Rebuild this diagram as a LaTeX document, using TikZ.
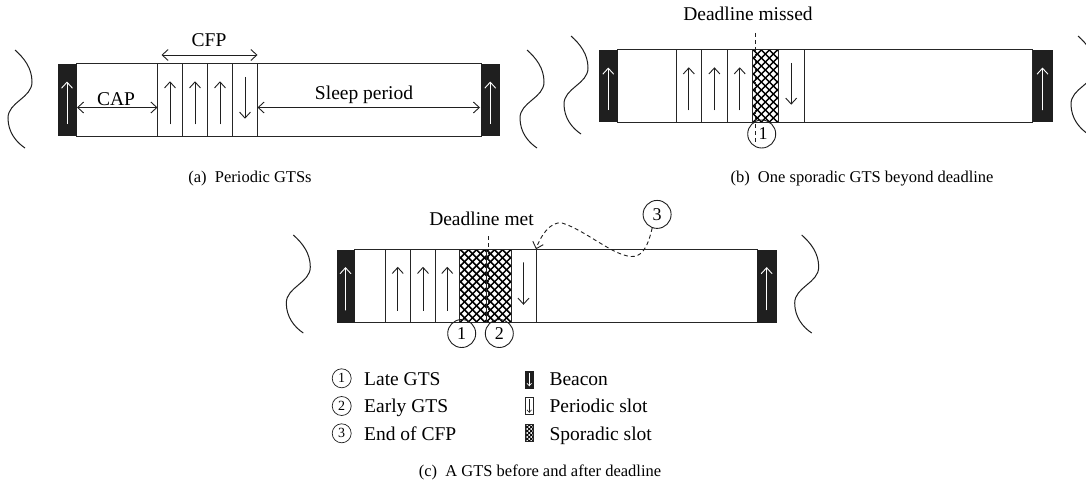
\documentclass[tikz,border=0pt]{standalone}
\usepackage{fontspec}
\setmainfont{Liberation Serif}
\usetikzlibrary{arrows.meta,calc,fit}

\newcommand\lblfont{\fontsize{19.5}{22}\selectfont}
\newcommand\capfont{\fontsize{16.5}{19}\selectfont}
\newcommand\numfont{\fontsize{18}{20}\selectfont}

% a rectangular block given by its two corners
\newcommand\blk[6]{\node[#1, fit={(#3,#5) (#4,#6)}] (#2) {};}
% up / down arrows inside a block
\newcommand\arrup[2]{\draw[#2] ($(#1.south)!0.16!(#1.north)$) -- ($(#1.south)!0.76!(#1.north)$);}
\newcommand\arrdown[2]{\draw[#2] ($(#1.north)!0.18!(#1.south)$) -- ($(#1.north)!0.76!(#1.south)$);}
% cross-hatched sporadic slot
\newcommand\hatchit[1]{%
  \begin{scope}
    \clip (#1.south west) rectangle (#1.north east);
    \foreach \k in {-88,-80,...,88} {
      \draw[hatch] ($(#1.center)+(\k-50,-50)$) -- ++(100,100);
      \draw[hatch] ($(#1.center)+(\k-50,50)$) -- ++(100,-100);
    }
  \end{scope}
  \draw[slot] (#1.south west) rectangle (#1.north east);}

\tikzset{
  frame/.style={draw=black!85, line width=1pt, inner sep=0pt, outer sep=0pt},
  slot/.style={draw=black!85, line width=1pt, inner sep=0pt, outer sep=0pt},
  beacon/.style={fill=black!88, draw=black!88, line width=0.4pt, inner sep=0pt, outer sep=0pt},
  hatch/.style={draw=black, line width=1.5pt},
  arr/.style={draw=black!88, line width=0.9pt, -{Straight Barb[length=6pt,width=11pt]}},
  warr/.style={draw=white, line width=0.9pt, -{Straight Barb[length=6pt,width=11pt]}},
  dbl/.style={draw=black!88, line width=0.9pt, {Straight Barb[length=6pt,width=11pt]}-{Straight Barb[length=6pt,width=11pt]}},
  dl/.style={draw=black!88, line width=0.9pt, dash pattern=on 4pt off 3pt},
  wavy/.style={draw=black!88, line width=1pt},
  circ/.style={circle, draw=black!88, line width=0.9pt, minimum size=28pt, inner sep=0pt, font=\numfont},
  lcirc/.style={circle, draw=black!88, line width=0.7pt, minimum size=19pt, inner sep=0pt, font=\fontsize{14}{16}\selectfont},
  lbl/.style={font=\lblfont, text=black, inner sep=0pt},
  captxt/.style={font=\capfont, text=black, inner sep=0pt},
  wave/.pic={\draw[wavy] (0,0) .. controls (9,8) and (17,18) .. (17,32)
     .. controls (17,48) and (-7,52) .. (-7,68)
     .. controls (-7,82) and (1,92) .. (10,98);}
}

\begin{document}
\begin{tikzpicture}[x=1pt,y=-1pt]
\clip (0,0) rectangle (1086,487);
\useasboundingbox (0,0) rectangle (1086,487);
\fill[white] (0,0) rectangle (1086,487);

% ---------------- (a) periodic GTSs ----------------
\pic at (15,50) {wave};
\pic at (527,50) {wave};
\blk{frame}{a-sf}{76}{481}{64}{136}
\blk{beacon}{a-bl}{58}{76}{64.5}{135.5}
\blk{beacon}{a-br}{481}{499.5}{64.5}{135.5}
\blk{slot}{a-s1}{157.5}{182.5}{64}{136}
\blk{slot}{a-s2}{182.5}{207.5}{64}{136}
\blk{slot}{a-s3}{207.5}{232.5}{64}{136}
\blk{slot}{a-s4}{232.5}{257.5}{64}{136}
\arrup{a-bl}{warr}
\arrup{a-br}{warr}
\arrup{a-s1}{arr}
\arrup{a-s2}{arr}
\arrup{a-s3}{arr}
\arrdown{a-s4}{arr}
\draw[dbl] ([shift={(1,7.5)}]a-bl.east) -- ([shift={(0,7.5)}]a-s1.west);
\draw[dbl] ([shift={(0,7.5)}]a-s4.east) -- ([shift={(-1,7.5)}]a-br.west);
\draw[dbl] ([shift={(4,-9)}]a-s1.north west) -- ([shift={(0,-9)}]a-s4.north east);
\node[lbl, anchor=base] (a-cap) at (116,105.5) {CAP};
\node[lbl, anchor=base] (a-sleep) at (364,99.5) {Sleep period};
\node[lbl, anchor=base] (a-cfp) at (209,47) {CFP};
\node[captxt, anchor=base] (a-title) at (250,182) {(a)\ \ Periodic GTSs};

% ---------------- (b) one sporadic GTS beyond deadline ----------------
\pic at (571,36) {wave};
\pic at (1078,36) {wave};
\blk{frame}{b-sf}{617.3}{1032.7}{50}{122}
\blk{beacon}{b-bl}{599.2}{617.3}{50.5}{121.5}
\blk{beacon}{b-br}{1032.7}{1052.3}{50.5}{121.5}
\blk{slot}{b-s1}{676}{701.6}{50}{122}
\blk{slot}{b-s2}{701.6}{727.2}{50}{122}
\blk{slot}{b-s3}{727.2}{752.3}{50}{122}
\blk{slot}{b-sp}{752.3}{778.4}{50}{122}
\blk{slot}{b-s4}{778.4}{804}{50}{122}
\arrup{b-bl}{warr}
\arrup{b-br}{warr}
\arrup{b-s1}{arr}
\arrup{b-s2}{arr}
\arrup{b-s3}{arr}
\arrdown{b-s4}{arr}
\hatchit{b-sp}
\node[circ] (b-c1) at (761.7,134) {\hspace*{3pt}1};
\node[lbl, anchor=base] (b-dl) at (748,21) {Deadline missed};
\coordinate (b-dtop) at (755.7,33);
\coordinate (b-dbot) at (755.7,143);
\draw[dl] (b-dtop) -- (b-dbot);
\node[captxt, anchor=base] (b-title) at (862,182) {(b)\ \ One sporadic GTS beyond deadline};

% ---------------- (c) a GTS before and after deadline ----------------
\pic at (293.3,235) {wave};
\pic at (801.7,235) {wave};
\blk{frame}{c-sf}{354.3}{757.3}{249.3}{322.3}
\blk{beacon}{c-bl}{336.7}{354.3}{249.8}{321.8}
\blk{beacon}{c-br}{757.3}{776}{249.8}{321.8}
\blk{slot}{c-s1}{385}{410.5}{249.3}{322.3}
\blk{slot}{c-s2}{410.5}{435.5}{249.3}{322.3}
\blk{slot}{c-s3}{435.5}{459}{249.3}{322.3}
\blk{slot}{c-sp1}{459}{486}{249.3}{322.3}
\blk{slot}{c-sp2}{486}{511}{249.3}{322.3}
\blk{slot}{c-s4}{511}{536}{249.3}{322.3}
\arrup{c-bl}{warr}
\arrup{c-br}{warr}
\arrup{c-s1}{arr}
\arrup{c-s2}{arr}
\arrup{c-s3}{arr}
\arrdown{c-s4}{arr}
\hatchit{c-sp1}
\hatchit{c-sp2}
\node[lbl, anchor=base] (c-dl) at (481.5,225) {Deadline met};
\coordinate (c-dtop) at (488.5,236);
\coordinate (c-dbot) at (488.5,322);
\draw[dl] (c-dtop) -- (c-dbot);
\node[circ] (c-c1) at (461.7,333.5) {1};
\node[circ] (c-c2) at (499.3,333.5) {2};
\node[circ] (c-c3) at (657.1,214.4) {3};
\draw[dl, -{Straight Barb[length=6pt,width=11pt]}] (c-c3.-110)
   .. controls (647,251) and (640,257) .. (631,256.5)
   .. controls (612,255) and (585,230) .. (562,223)
   .. controls (550,221) and (540,237) .. (c-s4.north east);

% legend
\node[lcirc] (l-1) at (341.7,378.3) {1};
\node[lcirc] (l-2) at (341.7,406) {2};
\node[lcirc] (l-3) at (341.7,433.3) {3};
\node[lbl, anchor=base west] (l-t1) at (364,385) {Late GTS};
\node[lbl, anchor=base west] (l-t2) at (364,412.5) {Early GTS};
\node[lbl, anchor=base west] (l-t3) at (364,440) {End of CFP};
\blk{beacon}{l-b}{525}{533.5}{371}{388}
\draw[white, line width=0.7pt, -{Straight Barb[length=2.5pt,width=4.5pt]}] ($(l-b.north)!0.1!(l-b.south)$) -- ($(l-b.north)!0.9!(l-b.south)$);
\blk{slot}{l-p}{525}{533.5}{397.5}{414.5}
\draw[black!88, line width=0.6pt, -{Straight Barb[length=2.5pt,width=4.5pt]}] ($(l-p.north)!0.1!(l-p.south)$) -- ($(l-p.north)!0.9!(l-p.south)$);
\blk{slot}{l-s}{525}{533.5}{424.5}{441.5}
\begin{scope}
  \clip (l-s.south west) rectangle (l-s.north east);
  \foreach \k in {-16,-12,...,16} {
    \draw[black, line width=1pt] ($(l-s.center)+(\k-12,-12)$) -- ++(24,24);
    \draw[black, line width=1pt] ($(l-s.center)+(\k-12,12)$) -- ++(24,-24);
  }
\end{scope}
\draw[slot, line width=0.7pt] (l-s.south west) rectangle (l-s.north east);
\node[lbl, anchor=base west] (l-t4) at (549.3,385) {Beacon};
\node[lbl, anchor=base west] (l-t5) at (549.3,412.5) {Periodic slot};
\node[lbl, anchor=base west] (l-t6) at (549.3,440) {Sporadic slot};
\node[captxt, anchor=base] (c-title) at (540,476.5) {(c)\ \ A GTS before and after deadline};
\end{tikzpicture}
\end{document}
